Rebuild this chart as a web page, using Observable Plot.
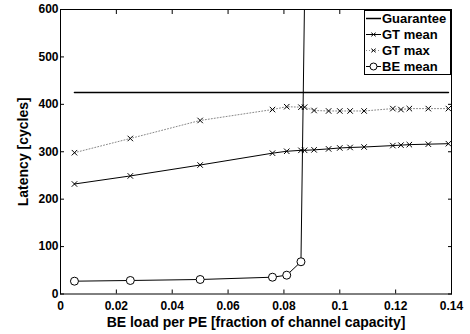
<!DOCTYPE html>
<html>
<head>
<meta charset="utf-8">
<script src="https://cdn.jsdelivr.net/npm/d3@7"></script>
<script src="https://cdn.jsdelivr.net/npm/@observablehq/plot@0.6"></script>
<style>
  html, body { margin: 0; padding: 0; background: white; }
  #wrap { position: relative; width: 470px; height: 334px; }
  #legend { position: absolute; left: 364px; top: 10px; width: 87px; height: 65px; border: 1px solid black; background: white;
    font-family: "Liberation Sans", Arial, sans-serif; font-weight: bold; font-size: 13px; box-sizing: border-box; color: black; }
  .row { position: absolute; left: 0; height: 15px; display: flex; align-items: center; }
  .row svg { display: block; }
  .row span { margin-left: 0px; white-space: nowrap; }
</style>
</head>
<body>
<div id="wrap"></div>
<script>
// ---- data ----
const loadX = [0.005, 0.025, 0.05, 0.0759, 0.081, 0.0861, 0.0874, 0.0908, 0.096, 0.1, 0.1037, 0.1087, 0.119, 0.1219, 0.1249, 0.1317, 0.1389];
const gtMean = [232, 249, 272, 297, 301, 303, 303, 304, 306, 308, 309, 310, 313, 314, 315, 316, 317];
const gtMax = [298, 328, 366, 389, 395, 394, 394, 387, 386, 386, 386, 386, 391, 389, 391, 391, 391];
const beX = [0.005, 0.025, 0.05, 0.0759, 0.081, 0.0861, 0.0878];
const beMean = [27, 28.5, 30.6, 35.4, 39.7, 68, 800];
const guaranteeX = [0.005, 0.1389];
const guaranteeY = [425, 425];
const xTicks = [0, 0.02, 0.04, 0.06, 0.08, 0.1, 0.12, 0.14];
const yTicks = [0, 100, 200, 300, 400, 500, 600];
const seriesNames = ["Guarantee", "GT mean", "GT max", "BE mean"];

const gt = loadX.map((x, i) => ({x, mean: gtMean[i], max: gtMax[i]}));
const be = beX.map((x, i) => ({x, y: beMean[i]}));
const guar = guaranteeX.map((x, i) => ({x, y: guaranteeY[i]}));

const chart = Plot.plot({
  width: 470, height: 334,
  marginLeft: 60, marginRight: 19, marginTop: 9, marginBottom: 40.5,
  style: {fontFamily: "'Liberation Sans', Arial, sans-serif", fontSize: "12px", fontWeight: "bold", background: "white", color: "black", overflow: "visible"},
  x: {domain: [0, 0.14]},
  y: {domain: [0, 600]},
  marks: [
    Plot.line(guar, {x: "x", y: "y", stroke: "black", strokeWidth: 1.5}),
    Plot.line(gt, {x: "x", y: "max", stroke: "#888", strokeWidth: 1, strokeDasharray: "1,2"}),
    Plot.dot(gt, {x: "x", y: "max", symbol: "times", r: 2.6, stroke: "black", strokeWidth: 1}),
    Plot.line(gt, {x: "x", y: "mean", stroke: "black", strokeWidth: 1}),
    Plot.dot(gt, {x: "x", y: "mean", symbol: "times", r: 2.6, stroke: "black", strokeWidth: 1}),
    Plot.line(be, {x: "x", y: "y", stroke: "black", strokeWidth: 1, clip: true}),
    Plot.dot(be, {x: "x", y: "y", r: 4, stroke: "black", fill: "white", strokeWidth: 1, clip: true}),
    Plot.frame({stroke: "black", strokeWidth: 1}),
    Plot.axisX(xTicks, {anchor: "bottom", tickSize: 0, tickPadding: 7, tickFormat: d => String(d), fontSize: 12, label: null}),
    Plot.axisX([], {anchor: "bottom", tickSize: 0, fontSize: 14,
      label: "BE load per PE [fraction of channel capacity]", labelAnchor: "center", labelOffset: 33, labelArrow: "none"}),
    Plot.axisX(xTicks, {anchor: "bottom", tickSize: -4, tickFormat: () => "", label: null}),
    Plot.axisX(xTicks, {anchor: "top", tickSize: -4, tickFormat: () => "", label: null}),
    Plot.axisY(yTicks, {anchor: "left", tickSize: 0, tickPadding: 2, tickFormat: d => String(d), fontSize: 12, label: null}),
    Plot.axisY([], {anchor: "left", tickSize: 0, fontSize: 14,
      label: "Latency [cycles]", labelAnchor: "center", labelOffset: 42, labelArrow: "none"}),
    Plot.axisY(yTicks, {anchor: "left", tickSize: -4, tickFormat: () => "", label: null}),
    Plot.axisY(yTicks, {anchor: "right", tickSize: -4, tickFormat: () => "", label: null})
  ]
});
document.getElementById("wrap").appendChild(chart);

// ---- legend ----
const legend = document.createElement("div");
legend.id = "legend";
const samples = [
  {line: "solid", stroke: "black", w: 1.5, marker: null},
  {line: "solid", stroke: "black", w: 1, marker: "x"},
  {line: "dotted", stroke: "#888", w: 1, marker: "x"},
  {line: "solid", stroke: "black", w: 1, marker: "o"}
];
seriesNames.forEach((name, i) => {
  const row = document.createElement("div");
  row.className = "row";
  row.style.top = (i * 16 - 0.5) + "px";
  const s = samples[i];
  let svg = `<svg width="17" height="15"><line x1="1" x2="16" y1="7.5" y2="7.5" stroke="${s.stroke}" stroke-width="${s.w}" ${s.line === "dotted" ? 'stroke-dasharray="1,2"' : ""}/>`;
  if (s.marker === "x") svg += `<path d="M6.3,5.7L10.7,9.3M6.3,9.3L10.7,5.7" stroke="black" fill="none"/>`;
  if (s.marker === "o") svg += `<circle cx="8.5" cy="7.5" r="3.5" stroke="black" fill="white"/>`;
  svg += `</svg>`;
  row.innerHTML = svg + `<span>${name}</span>`;
  legend.appendChild(row);
});
document.getElementById("wrap").appendChild(legend);
</script>
</body>
</html>
